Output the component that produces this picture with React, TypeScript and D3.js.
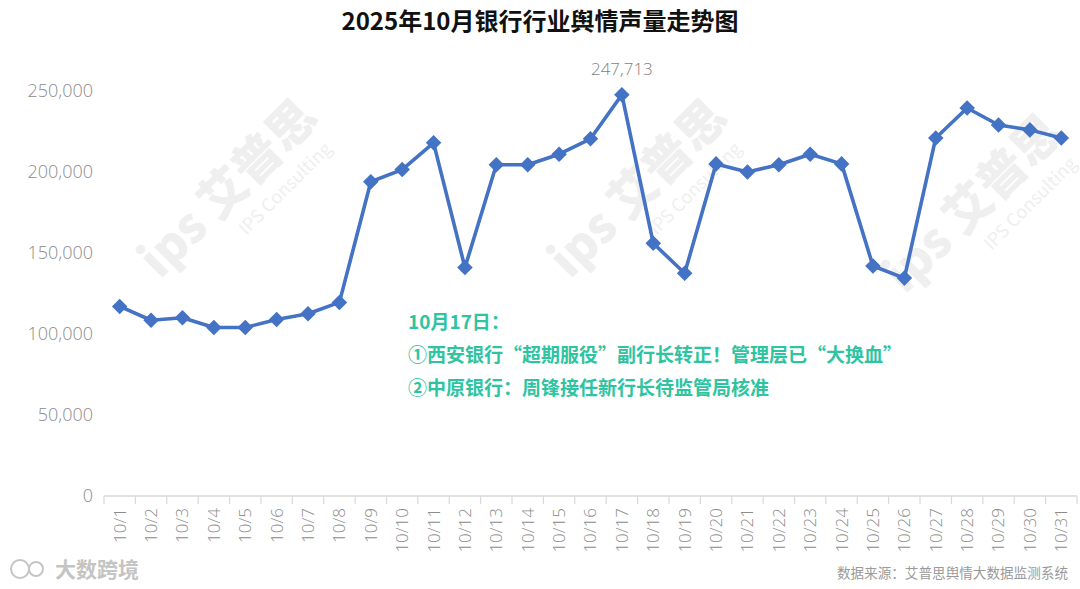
import React from "react";
import * as d3 from "d3";

const dates = Array.from({ length: 31 }, (_, i) => `10/${i + 1}`);
const values = [
  117000, 108500, 110000, 104000, 104000, 109000, 112500, 119500, 194000, 201500,
  218000, 141000, 204500, 204500, 211000, 220500, 247713, 156000, 137500, 205000,
  200000, 204500, 211000, 205000, 142000, 134500, 221000, 239500, 229000, 226000, 221000,
];
const yTicks = [0, 50000, 100000, 150000, 200000, 250000];
const title = "2025年10月银行行业舆情声量走势图";
const noteLines = [
  "10月17日：",
  "①西安银行“超期服役”副行长转正！管理层已“大换血”",
  "②中原银行：周锋接任新行长待监管局核准",
];
const peakLabel = "247,713";
const source = "数据来源：艾普思舆情大数据监测系统";
const watermarks = [
  [240, 200], [650, 200], [985, 215],
];

export default function App() {
  const W = 1080, H = 589;
  const x = d3.scaleBand<string>().domain(dates).range([104, 1077]);
  const y = d3.scaleLinear().domain([0, 250000]).range([496, 91]);
  const cx = (d: string) => (x(d) as number) + x.bandwidth() / 2;
  const line = d3.line<number>().x((_, i) => cx(dates[i])).y((v) => y(v));
  const fmt = d3.format(",");
  const boundaries = dates.map((d) => x(d) as number).concat([1077]);
  const peakIdx = values.indexOf(d3.max(values) as number);
  const font = "'Noto Sans CJK SC', 'Open Sans', sans-serif";
  const numFont = "'Open Sans', sans-serif";
  return (
    <svg width={W} height={H} style={{ position: "absolute", left: 0, top: 0, background: "#fff" }} fontFamily={font}>
      <rect width={W} height={H} fill="#fff" />
      {watermarks.map(([wx, wy], i) => (
        <g key={i} transform={`translate(${wx},${wy}) rotate(-45)`} fill="#efefef">
          <text x={0} y={0} fontSize={48} fontWeight={900} textAnchor="middle">ips 艾普思</text>
          <text x={40} y={30} fontSize={18} textAnchor="middle">IPS Consulting</text>
        </g>
      ))}
      <text x={540} y={30} textAnchor="middle" fontSize={24} fontWeight={700} fill="#111">{title}</text>
      {yTicks.map((t) => (
        <text key={t} x={93} y={y(t)} dy="0.35em" textAnchor="end" fontSize={18} fill="#8c8c8c" fontFamily={numFont} fontWeight={300}>
          {fmt(t)}
        </text>
      ))}
      <line x1={104} x2={1077} y1={496} y2={496} stroke="#d9d9d9" strokeWidth={1.5} />
      {boundaries.map((b, i) => (
        <line key={i} x1={b} x2={b} y1={496} y2={504} stroke="#d9d9d9" strokeWidth={1.2} />
      ))}
      {dates.map((d) => (
        <text key={d} transform={`translate(${cx(d)},508) rotate(-90)`} textAnchor="end" dy="0.35em" fontSize={17} fill="#8c8c8c" fontFamily={numFont} fontWeight={300}>
          {d}
        </text>
      ))}
      <path d={line(values) as string} fill="none" stroke="#4472C4" strokeWidth={3.6} strokeLinejoin="round" />
      {values.map((v, i) => (
        <rect key={i} x={-5.5} y={-5.5} width={11} height={11} fill="#4472C4" transform={`translate(${cx(dates[i])},${y(v)}) rotate(45)`} />
      ))}
      <text x={cx(dates[peakIdx])} y={y(values[peakIdx]) - 20} textAnchor="middle" fontSize={17} fill="#7f7f7f" fontFamily={numFont} fontWeight={300}>
        {peakLabel}
      </text>
      {noteLines.map((t, i) => (
        <text key={i} x={408} y={329 + i * 33} fontSize={19} fontWeight={700} fill="#2ec4a0">{t}</text>
      ))}
      <g>
        <circle cx={20} cy={569} r={9} fill="none" stroke="#c4c4c4" strokeWidth={2} />
        <circle cx={36} cy={569} r={7} fill="none" stroke="#c4c4c4" strokeWidth={2} />
        <text x={55} y={577} fontSize={21} fontWeight={700} fill="#c4c4c4">大数跨境</text>
      </g>
      <text x={1068} y={578} textAnchor="end" fontSize={13.6} fill="#9a9a9a">{source}</text>
    </svg>
  );
}
